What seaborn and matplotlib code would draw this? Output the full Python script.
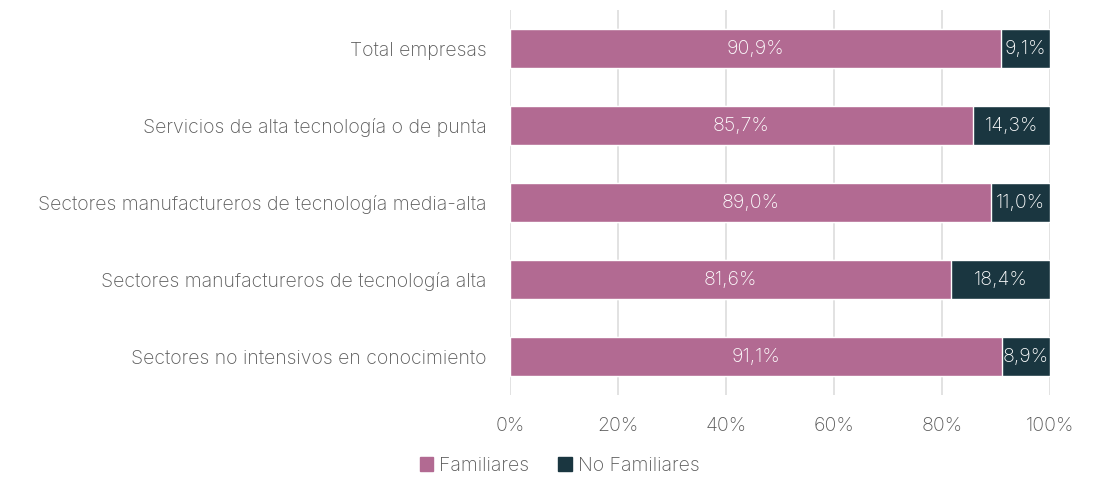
import matplotlib
matplotlib.use("Agg")
import matplotlib.pyplot as plt
from matplotlib.patches import Patch
from matplotlib.ticker import PercentFormatter
import seaborn as sns
import pandas as pd

sectores = [
    "Total empresas",
    "Servicios de alta tecnología o de punta",
    "Sectores manufactureros de tecnología media-alta",
    "Sectores manufactureros de tecnología alta",
    "Sectores no intensivos en conocimiento",
]
familiares = [90.9, 85.7, 89.0, 81.6, 91.1]
no_familiares = [9.1, 14.3, 11.0, 18.4, 8.9]

PINK = "#B26A92"
DARK = "#1A3640"
GREY = "#5a5a5a"
FS = 14

sns.set_theme(style="white")
plt.rcParams["font.family"] = ["Inter", "DejaVu Sans"]
plt.rcParams["font.weight"] = "light"

df = pd.DataFrame({"sector": sectores, "fam": familiares, "nofam": no_familiares})
df["total"] = df["fam"] + df["nofam"]

fig = plt.figure(figsize=(10.97, 4.8), dpi=100)
ax = fig.add_axes([0.4649, 0.177, 0.4923, 0.802])

# grid behind bars
for x in range(0, 101, 20):
    ax.axvline(x, color="#dddddd", lw=1.2, zorder=0)

sns.barplot(data=df, y="sector", x="total", color=DARK, orient="h",
            width=0.5, ax=ax, saturation=1, zorder=2)
sns.barplot(data=df, y="sector", x="fam", color=PINK, orient="h",
            width=0.5, ax=ax, saturation=1, zorder=3)

for i, row in df.iterrows():
    ax.text(row["fam"] / 2, i, f"{row['fam']:.1f}%".replace(".", ","),
            ha="center", va="center", color="white", fontsize=FS, zorder=5)
    ax.text(row["fam"] + row["nofam"] / 2, i, f"{row['nofam']:.1f}%".replace(".", ","),
            ha="center", va="center", color="white", fontsize=FS, zorder=5)

ax.set_xlim(0, 100)
ax.set_ylim(4.5, -0.5)
ax.set_xticks(range(0, 101, 20))
ax.xaxis.set_major_formatter(PercentFormatter(decimals=0))
ax.set_xlabel("")
ax.set_ylabel("")
ax.tick_params(axis="x", colors=GREY, labelsize=FS, length=0, pad=16)
ax.tick_params(axis="y", colors=GREY, labelsize=FS, length=0, pad=17)
for s in ax.spines.values():
    s.set_visible(False)

handles = [Patch(color=PINK, label="Familiares"), Patch(color=DARK, label="No Familiares")]
leg = fig.legend(handles=handles, loc="center", bbox_to_anchor=(0.51, 1 - 466 / 480),
                 ncol=2, frameon=False, fontsize=FS, handlelength=0.7,
                 handleheight=0.7, handletextpad=0.3, columnspacing=1.5)
for t in leg.get_texts():
    t.set_color(GREY)

fig.savefig("out.png", dpi=100)
